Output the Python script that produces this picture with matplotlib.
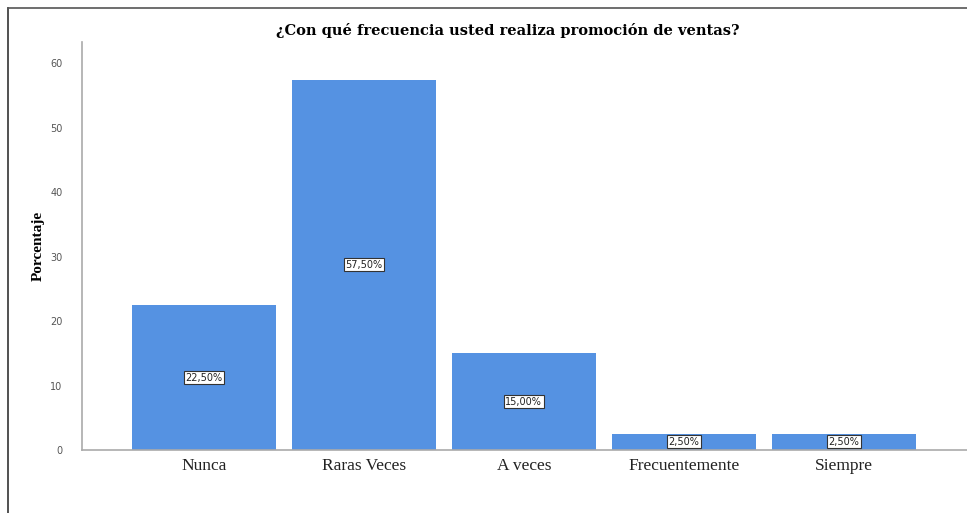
import matplotlib.pyplot as plt
from matplotlib.lines import Line2D

categorias = ["Nunca", "Raras Veces", "A veces", "Frecuentemente", "Siempre"]
porcentajes = [22.5, 57.5, 15.0, 2.5, 2.5]
etiquetas = ["22,50%", "57,50%", "15,00%", "2,50%", "2,50%"]
yticks = [0, 10, 20, 30, 40, 50, 60]

fig = plt.figure(figsize=(9.67, 5.13), dpi=100)
ax = fig.add_axes([0.0848, 0.1228, 0.915, 0.795])

pos = list(range(len(categorias)))
ax.bar(pos, porcentajes, width=0.9, color="#5592E2", zorder=2)

# etiquetas de valor en el centro de cada barra
for x, v, t in zip(pos, porcentajes, etiquetas):
    ax.text(x, v / 2 if v > 5 else 1.3, t, ha="center", va="center",
            fontsize=7, family="DejaVu Sans", color="#222222",
            bbox=dict(boxstyle="square,pad=0.15", fc="white", ec="#333333", lw=0.8))

ax.set_xlim(-0.7625, 4.77)
ax.set_ylim(0, 63.3)
ax.set_xticks(pos)
ax.set_xticklabels(categorias, family="Liberation Serif", fontsize=12.5, color="#222222")
ax.set_yticks(yticks)
ax.set_yticklabels([str(t) for t in yticks], fontsize=7, color="#555555")
ax.tick_params(axis="both", length=0)
ax.tick_params(axis="x", pad=6)
ax.tick_params(axis="y", pad=14)

for s in ["top", "right"]:
    ax.spines[s].set_visible(False)
for s in ["left", "bottom"]:
    ax.spines[s].set_color("#aaaaaa")
    ax.spines[s].set_linewidth(1.2)

ax.set_ylabel("Porcentaje", family="Liberation Serif", fontweight="bold",
              fontsize=11, labelpad=4)
fig.text(0.525, 0.94, "¿Con qué frecuencia usted realiza promoción de ventas?",
         ha="center", va="center", family="DejaVu Serif",
         fontweight="bold", fontsize=10.5)

# marco exterior
fig.add_artist(Line2D([8 / 967, 8 / 967], [0, 1 - 8 / 513], color="#333333", lw=1.2))
fig.add_artist(Line2D([8 / 967, 1], [1 - 8 / 513, 1 - 8 / 513], color="#555555", lw=1.2))

fig.savefig("out.png", dpi=100)
